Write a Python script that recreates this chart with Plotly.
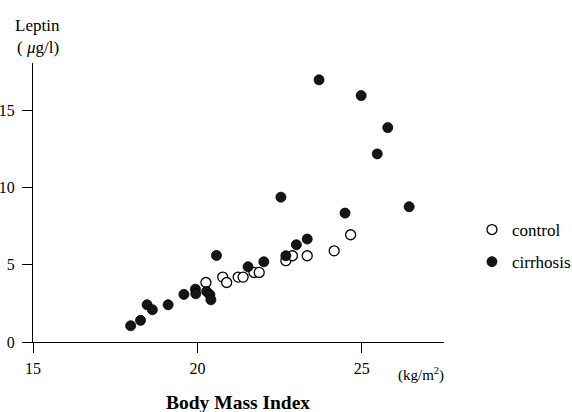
import plotly.graph_objects as go

# Data
control_bmi = [20.26, 20.77, 20.89, 21.24, 21.39, 21.72, 21.88, 22.69, 22.89, 23.34, 24.16, 24.66]
control_leptin = [3.85, 4.20, 3.85, 4.20, 4.20, 4.50, 4.50, 5.26, 5.58, 5.58, 5.90, 6.94]

cirrhosis_bmi = [17.97, 18.27, 18.47, 18.63, 19.11, 19.59, 19.94, 19.95, 20.28, 20.38, 20.41,
                 20.58, 21.54, 22.02, 22.69, 23.01, 23.34, 22.54, 24.49, 26.44, 23.70, 24.98,
                 25.79, 25.47]
cirrhosis_leptin = [1.05, 1.40, 2.41, 2.09, 2.41, 3.08, 3.42, 3.12, 3.27, 3.06, 2.73,
                    5.60, 4.87, 5.19, 5.58, 6.29, 6.66, 9.37, 8.34, 8.75, 16.96, 15.94,
                    13.87, 12.17]

x_ticks = [15, 20, 25]
y_ticks = [0, 5, 10, 15]

FONT = "Liberation Serif"

fig = go.Figure()
fig.add_trace(go.Scatter(
    x=control_bmi, y=control_leptin, mode="markers", name="control",
    legendgroup="a",
    marker=dict(symbol="circle", size=10, color="white",
                line=dict(color="black", width=1.3)),
))
fig.add_trace(go.Scatter(
    x=cirrhosis_bmi, y=cirrhosis_leptin, mode="markers", name="cirrhosis",
    legendgroup="b",
    marker=dict(symbol="circle", size=10, color="#151515",
                line=dict(color="#000", width=0.8)),
))

axis_common = dict(
    showgrid=False, zeroline=False, showline=True, linecolor="black", linewidth=1.3,
    ticks="outside", ticklen=10, tickwidth=1.2, tickcolor="black",
    tickfont=dict(family=FONT, size=16, color="black"),
    automargin=False,
)

fig.update_layout(
    width=572, height=412,
    margin=dict(l=33, r=128, t=63, b=70, autoexpand=False),
    paper_bgcolor="white", plot_bgcolor="white",
    font=dict(family=FONT, color="black"),
    xaxis=dict(range=[15, 27.5], tickvals=x_ticks, ticktext=[str(v) for v in x_ticks],
               ticklabelstandoff=2, **axis_common),
    yaxis=dict(range=[0, 18.05], tickvals=y_ticks, ticktext=[str(v) for v in y_ticks],
               ticklabelstandoff=4, **axis_common),
    showlegend=True,
    legend=dict(x=1.068, xanchor="left", y=0.466, yanchor="top",
                font=dict(family=FONT, size=17, color="black"),
                traceorder="grouped", tracegroupgap=7,
                bgcolor="rgba(0,0,0,0)", itemwidth=30),
    annotations=[
        dict(text="Leptin", xref="paper", yref="paper", x=0.012, y=1.136,
             showarrow=False, font=dict(family=FONT, size=17, color="black"),
             xanchor="center", yanchor="middle"),
        dict(text="( <i>μ</i>g/l)", xref="paper", yref="paper", x=0.012, y=1.054,
             showarrow=False, font=dict(family=FONT, size=17, color="black"),
             xanchor="center", yanchor="middle"),
        dict(text="(kg/m<sup>2</sup>)", xref="paper", yref="paper", x=0.944, y=-0.117,
             showarrow=False, font=dict(family=FONT, size=15, color="black"),
             xanchor="center", yanchor="middle"),
        dict(text="<b>Body Mass Index</b>", xref="paper", yref="paper", x=0.499, y=-0.217,
             showarrow=False, font=dict(family=FONT, size=19.5, color="black"),
             xanchor="center", yanchor="middle"),
    ],
)

fig.write_html("out.html", config={"displayModeBar": False},
               post_script="document.body.style.margin='0';")
